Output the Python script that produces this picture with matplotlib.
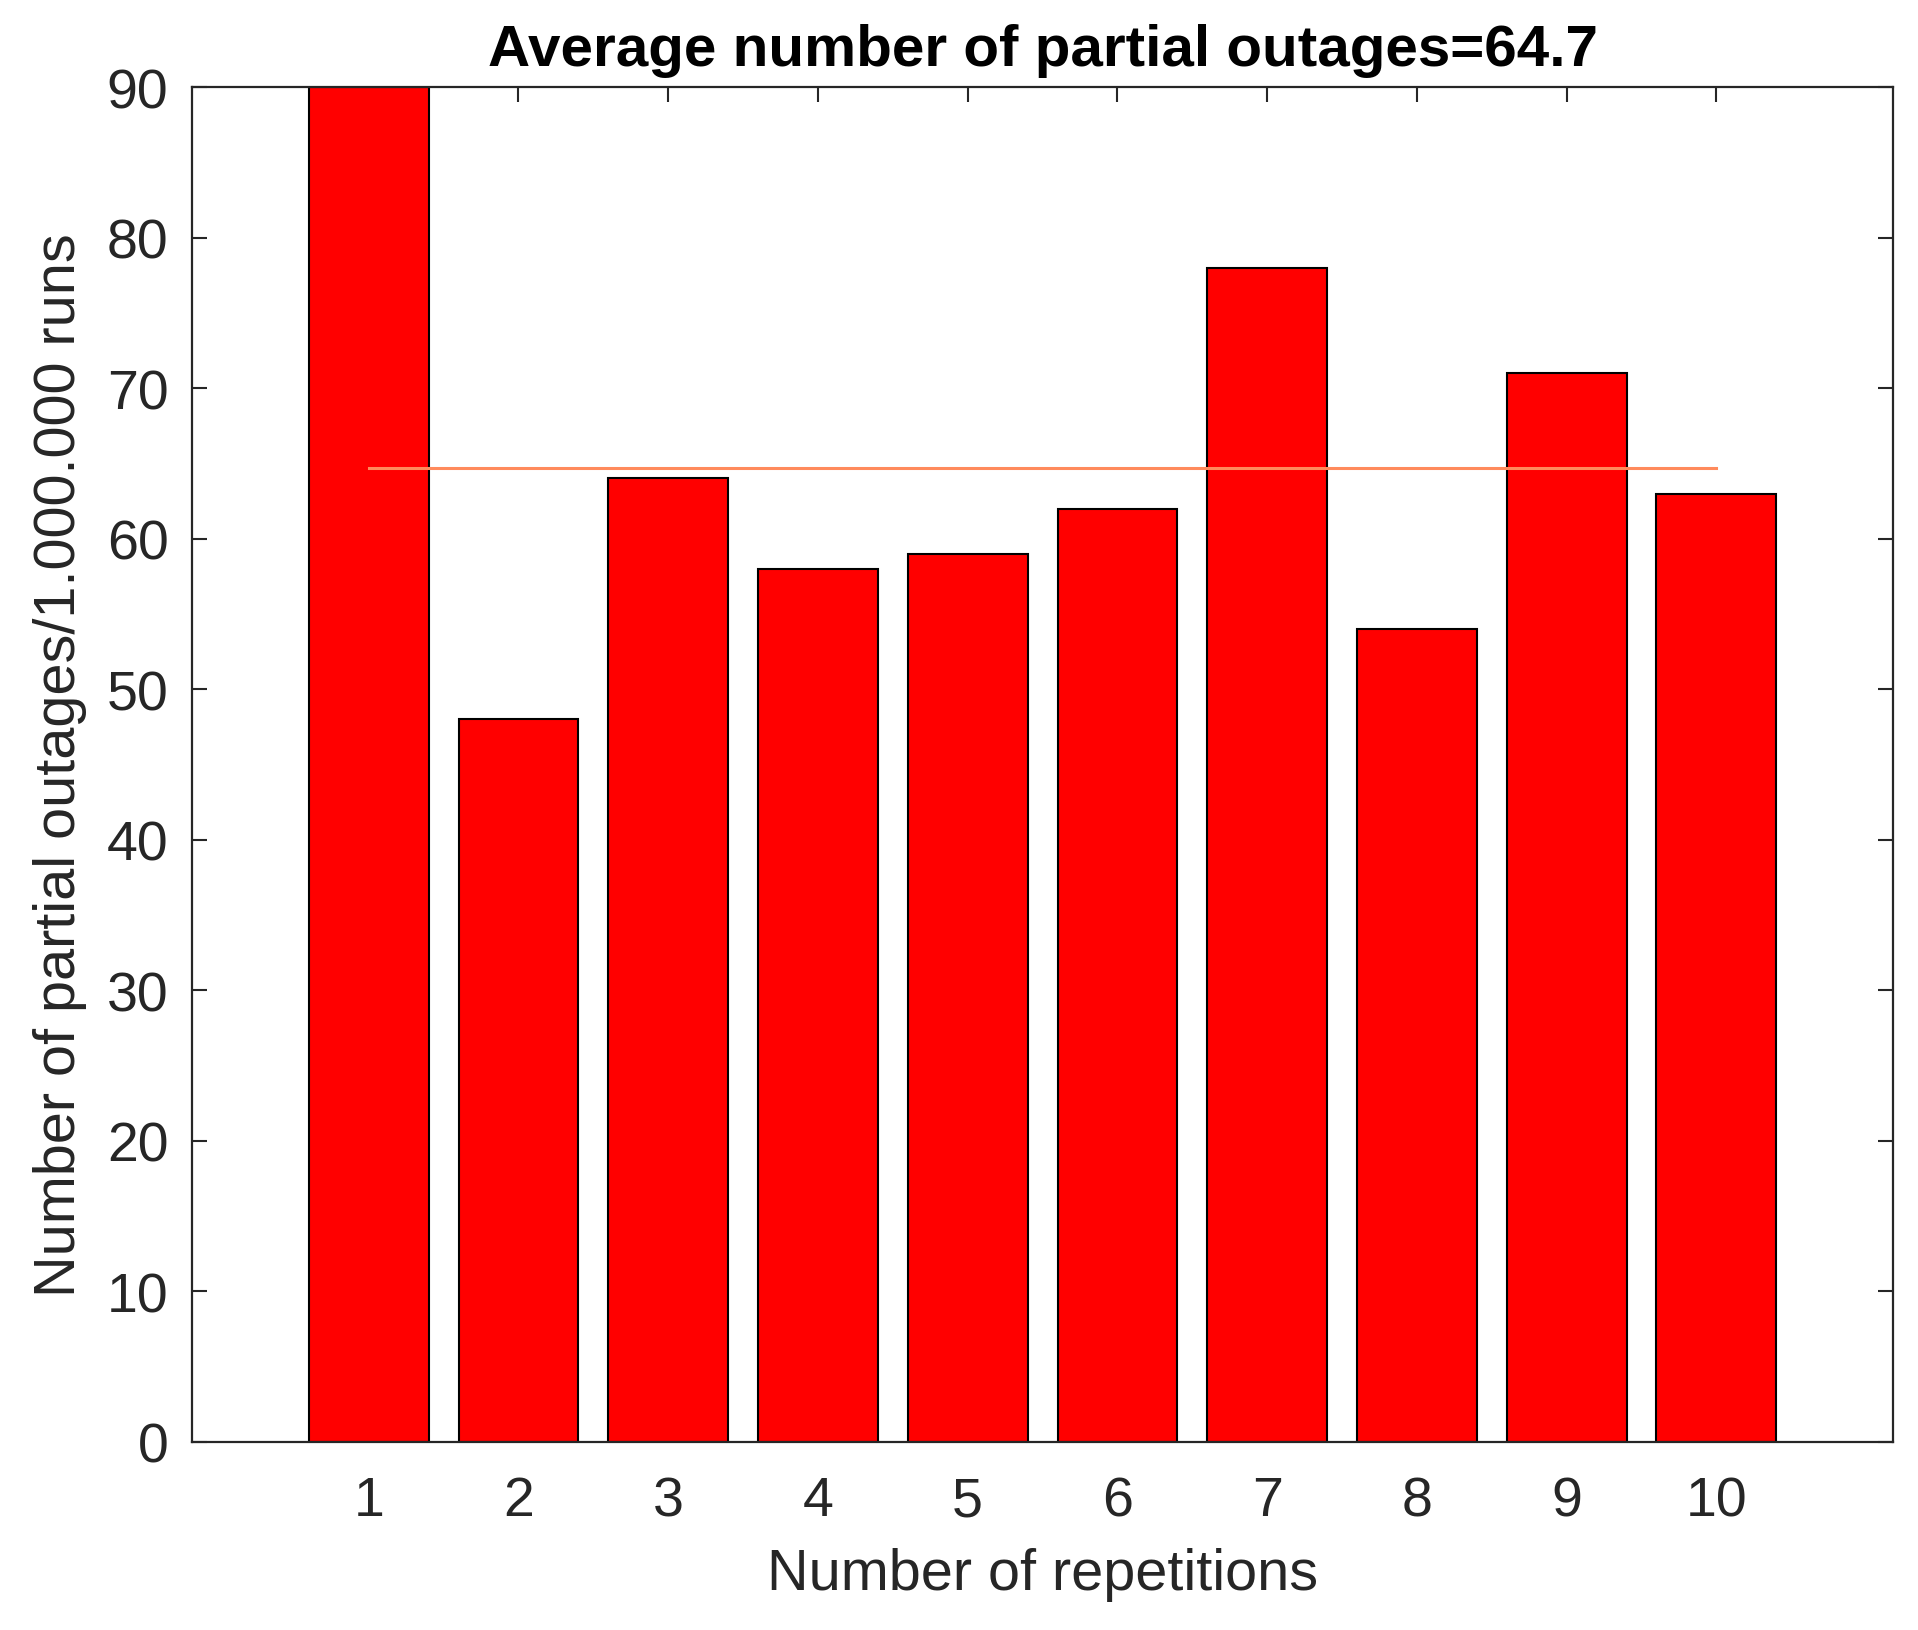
import matplotlib
matplotlib.use("Agg")
import matplotlib.pyplot as plt

repetitions = [1, 2, 3, 4, 5, 6, 7, 8, 9, 10]
outages = [90, 48, 64, 58, 59, 62, 78, 54, 71, 63]
average = 64.7
yticks = [0, 10, 20, 30, 40, 50, 60, 70, 80, 90]

plt.rcParams['font.family'] = ['Liberation Sans', 'DejaVu Sans']

fig = plt.figure(figsize=(19.18, 16.31), dpi=100)
ax = fig.add_axes([0.1001, 0.1153, 0.9870 - 0.1001, 0.946 - 0.1153])

ax.bar(repetitions, outages, width=0.8, color='#FF0000', edgecolor='black',
       linewidth=1.5, zorder=2)
ax.plot([repetitions[0], repetitions[-1]], [average, average], color='#FF8A5C',
        linewidth=2.2, zorder=3)

ax.set_xlim(-0.18, 11.18)
ax.set_ylim(0, 90)
ax.set_xticks(repetitions)
ax.set_yticks(yticks)

axcol = '#262626'
for s in ax.spines.values():
    s.set_color(axcol)
    s.set_linewidth(1.6)
    s.set_zorder(4)

ax.tick_params(direction='in', length=11, width=1.5, colors=axcol,
               labelsize=40, top=True, right=True, pad=17)
ax.tick_params(axis='x', pad=24)
ax.set_xlabel('Number of repetitions', fontsize=41.5, color=axcol, labelpad=14)
ax.set_ylabel('Number of partial outages/1.000.000 runs', fontsize=41.5,
              color=axcol, labelpad=14)
ax.set_title('Average number of partial outages=64.7', fontsize=42,
             fontweight='bold', pad=16)

fig.savefig('out.png', dpi=100)
